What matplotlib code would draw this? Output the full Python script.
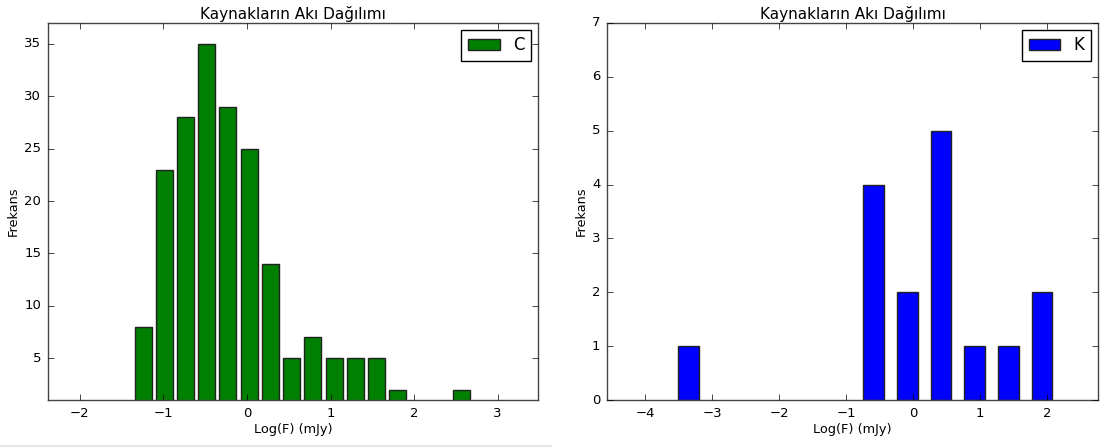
import matplotlib
matplotlib.use("Agg")
import matplotlib.pyplot as plt

# ---- data ----
c_centers = [-1.243, -0.989, -0.735, -0.481, -0.227, 0.027, 0.281, 0.535,
             0.789, 1.043, 1.297, 1.551, 1.805, 2.059, 2.313, 2.567]
c_counts = [8, 23, 28, 35, 29, 25, 14, 5, 7, 5, 5, 5, 2, 0, 0, 2]

k_centers = [-3.36, -0.59, -0.087, 0.416, 0.919, 1.422, 1.925]
k_counts = [1, 4, 2, 5, 1, 1, 2]

title = "Kaynakların Akı Dağılımı"
xlabel = "Log(F) (mJy)"
ylabel = "Frekans"

plt.style.use("classic")
plt.rcParams["font.family"] = "DejaVu Sans"

fig = plt.figure(figsize=(11.02, 4.48), dpi=100, facecolor="white")
ax1 = fig.add_axes([0.0436, 0.107, 0.4444, 0.8417])
ax2 = fig.add_axes([0.551, 0.107, 0.4454, 0.8417])


def style(ax):
    ax.set_facecolor("white")
    ax.set_title(title, fontsize=11, pad=3)
    ax.set_xlabel(xlabel, fontsize=9.3, labelpad=2)
    ax.set_ylabel(ylabel, fontsize=9.3, labelpad=3)
    ax.tick_params(labelsize=9.5, pad=5)
    for s in ax.spines.values():
        s.set_color("#444444")


ax1.bar(c_centers, c_counts, width=0.203, color="green", edgecolor="#222222",
        linewidth=1.0, label="C")
ax1.set_xlim(-2.38, 3.48)
ax1.set_ylim(1, 37)
ax1.set_yticks([5, 10, 15, 20, 25, 30, 35])
style(ax1)
ax1.legend(loc="upper right", fontsize=12, handlelength=1.9, borderpad=0.4,
           framealpha=1, borderaxespad=0.4)

ax2.bar(k_centers, k_counts, width=0.31, color="blue", edgecolor="#222222",
        linewidth=1.0, label="K")
ax2.set_xlim(-4.57, 2.76)
ax2.set_ylim(0, 7)
style(ax2)
ax2.legend(loc="upper right", fontsize=12, handlelength=1.9, borderpad=0.4,
           framealpha=1, borderaxespad=0.4)

# faint border line of the left screenshot
fig.add_artist(plt.Line2D([0, 0.5], [0.004, 0.004], color="#e6e6e6", lw=1.5,
                          transform=fig.transFigure))

plt.savefig("out.png", dpi=100, facecolor="white")
plt.close()
